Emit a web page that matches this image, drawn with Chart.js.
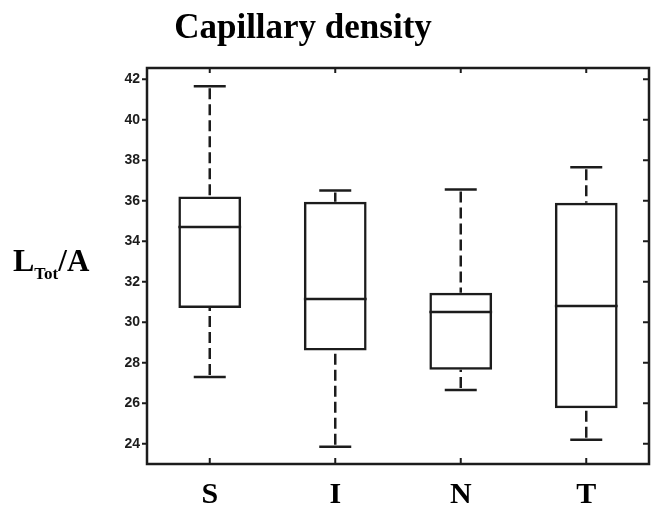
<!DOCTYPE html>
<html>
<head>
<meta charset="utf-8">
<script src="https://cdn.jsdelivr.net/npm/chart.js@4.4.0/dist/chart.umd.min.js"></script>
<style>
  body { margin: 0; background: #fff; }
  canvas { display: block; }
</style>
</head>
<body>
<canvas id="boxChart" width="662" height="508"></canvas>
<script>
// box plot values
let groups = ["S", "I", "N", "T"];
let whiskerLow = [27.3, 23.85, 26.65, 24.2];
let q1 = [30.7, 28.6, 27.65, 25.75];
let median = [34.7, 31.15, 30.5, 30.8];
let q3 = [36.2, 35.95, 31.45, 35.9];
let whiskerHigh = [41.65, 36.5, 36.55, 37.65];
let yTicks = [24, 26, 28, 30, 32, 34, 36, 38, 40, 42];

const INK = "#1c1c1c";

const boxPlot = {
    id: "boxPlot",
    afterDatasetsDraw(chart) {
        const ctx = chart.ctx;
        const x = chart.scales.x;
        const y = chart.scales.y;
        const meta = chart.getDatasetMeta(0);
        ctx.save();
        ctx.strokeStyle = INK;
        ctx.lineWidth = 2.5;
        groups.forEach((g, i) => {
            const cx = x.getPixelForValue(i);
            const half = meta.data[i].width / 2;
            const capHalf = 16;
            // median
            ctx.setLineDash([]);
            ctx.beginPath();
            ctx.moveTo(cx - half, y.getPixelForValue(median[i]));
            ctx.lineTo(cx + half, y.getPixelForValue(median[i]));
            ctx.stroke();
            // caps
            [whiskerLow[i], whiskerHigh[i]].forEach((v) => {
                ctx.beginPath();
                ctx.moveTo(cx - capHalf, y.getPixelForValue(v));
                ctx.lineTo(cx + capHalf, y.getPixelForValue(v));
                ctx.stroke();
            });
            // dashed whiskers
            ctx.setLineDash([11, 5]);
            ctx.beginPath();
            ctx.moveTo(cx, y.getPixelForValue(whiskerHigh[i]) + 2);
            ctx.lineTo(cx, y.getPixelForValue(q3[i]));
            ctx.moveTo(cx, y.getPixelForValue(whiskerLow[i]) - 2);
            ctx.lineTo(cx, y.getPixelForValue(q1[i]));
            ctx.stroke();
        });
        ctx.restore();
    },
    afterDraw(chart) {
        const ctx = chart.ctx;
        const a = chart.chartArea;
        const x = chart.scales.x;
        const y = chart.scales.y;
        ctx.save();
        ctx.strokeStyle = INK;
        ctx.lineWidth = 2.5;
        ctx.setLineDash([]);
        ctx.strokeRect(a.left, a.top, a.right - a.left, a.bottom - a.top);
        ctx.lineWidth = 2;
        ctx.beginPath();
        yTicks.forEach((v) => {
            const py = y.getPixelForValue(v);
            ctx.moveTo(a.left - 5, py);
            ctx.lineTo(a.left, py);
            ctx.moveTo(a.right - 6, py);
            ctx.lineTo(a.right, py);
        });
        groups.forEach((g, i) => {
            const px = x.getPixelForValue(i);
            ctx.moveTo(px, a.top);
            ctx.lineTo(px, a.top + 5);
            ctx.moveTo(px, a.bottom);
            ctx.lineTo(px, a.bottom - 6);
        });
        ctx.stroke();

        ctx.fillStyle = "#000";
        ctx.textAlign = "center";
        ctx.textBaseline = "alphabetic";
        ctx.font = "bold 35px 'Liberation Serif'";
        ctx.fillText("Capillary density", 303, 38);

        // y axis label L_Tot/A
        ctx.textAlign = "left";
        ctx.font = "bold 32px 'Liberation Serif'";
        ctx.fillText("L", 13, 271);
        let lw = ctx.measureText("L").width;
        ctx.font = "bold 17px 'Liberation Serif'";
        ctx.fillText("Tot", 13 + lw, 279);
        let tw = ctx.measureText("Tot").width;
        ctx.font = "bold 31px 'Liberation Serif'";
        ctx.fillText("/A", 13 + lw + tw, 271);
        ctx.restore();
    }
};

new Chart(document.getElementById("boxChart"), {
    type: "bar",
    data: {
        labels: groups,
        datasets: [
            {
                label: "Capillary density",
                data: groups.map((g, i) => [q1[i], q3[i]]),
                backgroundColor: "rgba(0,0,0,0)",
                borderColor: INK,
                borderWidth: 2.5,
                borderSkipped: false,
                categoryPercentage: 1,
                barPercentage: 0.5
            }
        ]
    },
    options: {
        responsive: false,
        animation: false,
        layout: { padding: { top: 68, right: 13, left: 87, bottom: 0 } },
        plugins: {
            legend: { display: false },
            tooltip: { enabled: false },
            title: { display: false }
        },
        scales: {
            x: {
                grid: { display: false, drawTicks: false },
                border: { display: false },
                afterFit: (s) => { s.height = 44; },
                ticks: {
                    color: "#000",
                    padding: 13,
                    font: { family: "'Liberation Serif'", size: 30, weight: "bold" }
                }
            },
            y: {
                min: 23,
                max: 42.55,
                grid: { display: false, drawTicks: false },
                border: { display: false },
                afterFit: (s) => { s.width = 60; },
                afterBuildTicks: (s) => { s.ticks = yTicks.map((v) => ({ value: v })); },
                ticks: {
                    color: INK,
                    padding: 7,
                    font: { family: "'Liberation Sans'", size: 14, weight: "bold" }
                }
            }
        }
    },
    plugins: [boxPlot]
});
</script>
</body>
</html>
